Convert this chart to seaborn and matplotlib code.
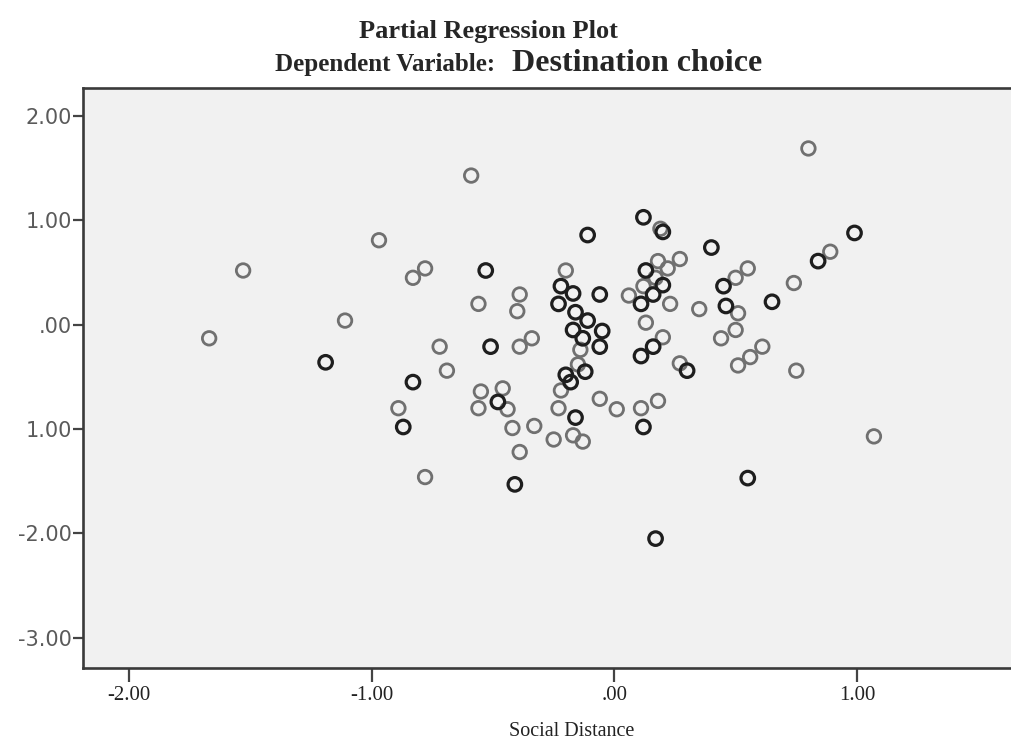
import numpy as np
import pandas as pd
import matplotlib
matplotlib.use('Agg')
import matplotlib.pyplot as plt
import seaborn as sns

# --- Data ---
# overlap = 2 marks the darker circles (two cases drawn on top of each other)
social_distance = [
    0.80, -0.59, 0.12, -0.11, 0.19, 0.20, -0.97, 0.40, 0.99, 0.89,
    0.84, 0.74, 0.65, 0.27, 0.55, 0.50, 0.45, 0.46, 0.51, 0.35,
    0.23, 0.18, 0.22, 0.13, 0.17, 0.20, 0.12, 0.16, 0.06, 0.11,
    0.13, 0.20, 0.16, 0.11, 0.27, 0.30, 0.44, 0.50, 0.61, 0.56,
    0.51, 0.75, 1.07, 0.55, 0.17, -0.20, -0.22, -0.17, -0.23, -0.06,
    -0.16, -0.11, -0.17, -0.05, -0.13, -0.14, -0.06, -0.15, -0.20, -0.12,
    -0.18, -0.22, -0.39, -0.40, -0.34, -0.39, -0.51, -0.46, -0.48, -0.44,
    -0.23, -0.06, 0.01, 0.11, 0.18, -0.16, 0.12, -0.42, -0.33, -0.25,
    -0.17, -0.13, -0.39, -0.41, -1.53, -1.67, -1.11, -1.19, -0.78, -0.83,
    -0.53, -0.56, -0.72, -0.69, -0.83, -0.89, -0.87, -0.55, -0.56, -0.78,
]
destination_choice = [
    1.69, 1.43, 1.03, 0.86, 0.92, 0.89, 0.81, 0.74, 0.88, 0.70,
    0.61, 0.40, 0.22, 0.63, 0.54, 0.45, 0.37, 0.18, 0.11, 0.15,
    0.20, 0.61, 0.54, 0.52, 0.45, 0.38, 0.37, 0.29, 0.28, 0.20,
    0.02, -0.12, -0.21, -0.30, -0.37, -0.44, -0.13, -0.05, -0.21, -0.31,
    -0.39, -0.44, -1.07, -1.47, -2.05, 0.52, 0.37, 0.30, 0.20, 0.29,
    0.12, 0.04, -0.05, -0.06, -0.13, -0.24, -0.21, -0.38, -0.48, -0.45,
    -0.55, -0.63, 0.29, 0.13, -0.13, -0.21, -0.21, -0.61, -0.74, -0.81,
    -0.80, -0.71, -0.81, -0.80, -0.73, -0.89, -0.98, -0.99, -0.97, -1.10,
    -1.06, -1.12, -1.22, -1.53, 0.52, -0.13, 0.04, -0.36, 0.54, 0.45,
    0.52, 0.20, -0.21, -0.44, -0.55, -0.80, -0.98, -0.64, -0.80, -1.46,
]
overlap = [
    1, 1, 2, 2, 1, 2, 1, 2, 2, 1,
    2, 1, 2, 1, 1, 1, 2, 2, 1, 1,
    1, 1, 1, 2, 1, 2, 1, 2, 1, 2,
    1, 1, 2, 2, 1, 2, 1, 1, 1, 1,
    1, 1, 1, 2, 2, 1, 2, 2, 2, 2,
    2, 2, 2, 2, 2, 1, 2, 1, 2, 2,
    2, 1, 1, 1, 1, 1, 2, 1, 2, 1,
    1, 1, 1, 1, 1, 2, 2, 1, 1, 1,
    1, 1, 1, 2, 1, 1, 1, 2, 1, 1,
    2, 1, 1, 1, 2, 1, 2, 1, 1, 1,
]

x_ticks = [-2, -1, 0, 1]
x_ticklabels = ['-2.00', '-1.00', '.00', '1.00']
y_ticks = [2, 1, 0, -1, -2, -3]
y_ticklabels = ['2.00', '1.00', '.00', '1.00', '-2.00', '-3.00']

df = pd.DataFrame({'social_distance': social_distance,
                   'destination_choice': destination_choice,
                   'overlap': overlap})

# --- Plot ---
sns.set_style('white')
fig = plt.figure(figsize=(10.11, 7.44), dpi=100)
ax = fig.add_axes([83 / 1011, 0.1022, (1060 - 83) / 1011, 0.7796])
ax.set_facecolor('#f1f1f1')

ring_colors = {1: '#707070', 2: '#1e1e1e'}
ring_widths = {1: 2.0, 2: 2.3}
for n, grp in df.groupby('overlap'):
    sns.scatterplot(data=grp, x='social_distance', y='destination_choice',
                    s=95, facecolor='none', edgecolor=ring_colors[n],
                    linewidth=ring_widths[n], ax=ax, legend=False, zorder=3)

ax.set_xlim(-2.19, 1.837)
ax.set_ylim(-3.29, 2.27)

ax.set_xticks(x_ticks)
ax.set_xticklabels(x_ticklabels, family='Liberation Serif', fontsize=15, color='#222222')
ax.set_yticks(y_ticks)
ax.set_yticklabels(y_ticklabels, family='DejaVu Sans', fontsize=15, color='#5a5a5a')
ax.tick_params(axis='x', bottom=True, direction='out', length=10, width=1.6,
               color='#444444', pad=3)
ax.tick_params(axis='y', left=True, direction='out', length=7, width=1.6,
               color='#444444', pad=1)

for side in ['left', 'bottom', 'top', 'right']:
    ax.spines[side].set_color('#3a3a3a')
    ax.spines[side].set_linewidth(1.9)

ax.set_xlabel('Social Distance', family='Liberation Serif', fontsize=14.5,
              color='#222222', labelpad=12)
ax.set_ylabel('')

# --- Titles ---
fig.text(0.483, 0.949, 'Partial Regression Plot', family='Liberation Serif',
         fontweight='bold', fontsize=19, ha='center', va='baseline')
fig.text(0.490, 0.904, 'Dependent Variable:', family='Liberation Serif',
         fontweight='bold', fontsize=18, ha='right', va='baseline')
fig.text(0.506, 0.904, 'Destination choice', family='Liberation Serif',
         fontweight='bold', fontsize=23, ha='left', va='baseline')

plt.savefig('out.png', dpi=100)
